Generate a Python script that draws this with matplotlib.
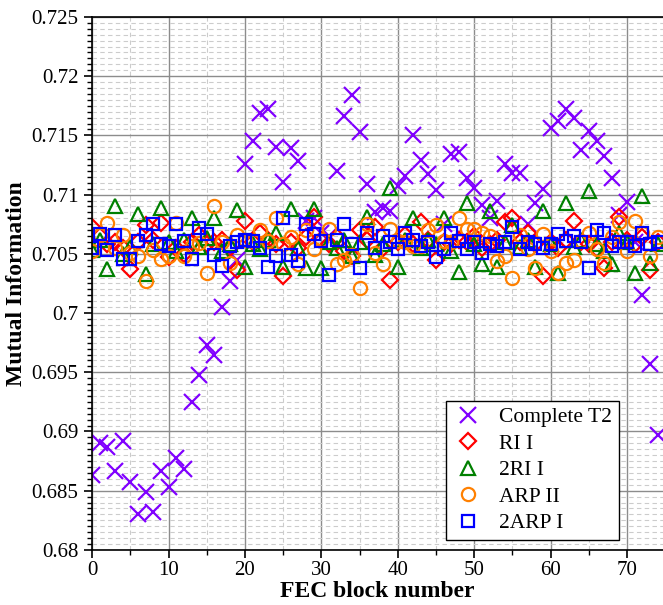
import matplotlib
matplotlib.use("Agg")
import matplotlib.pyplot as plt
import numpy as np
from matplotlib.ticker import MultipleLocator

# FEC block index 0..74
blocks = np.arange(75)

complete_t2 = [0.6863, 0.6890, 0.6887, 0.6867, 0.6892, 0.6857, 0.6830, 0.6849, 0.6832, 0.6867,
               0.6853, 0.6878, 0.6868, 0.6925, 0.6948, 0.6973, 0.6965, 0.7005, 0.7027, 0.7045,
               0.7126, 0.7145, 0.7169, 0.7172, 0.7140, 0.7111, 0.7139, 0.7128, 0.7078, 0.7080,
               0.7068, 0.7065, 0.7120, 0.7166, 0.7184, 0.7153, 0.7109, 0.7085, 0.7089, 0.7086,
               0.7107, 0.7116, 0.7150, 0.7129, 0.7117, 0.7104, 0.7075, 0.7134, 0.7136, 0.7114,
               0.7106, 0.7091, 0.7080, 0.7095, 0.7126, 0.7118, 0.7118, 0.7075, 0.7093, 0.7105,
               0.7156, 0.7162, 0.7172, 0.7165, 0.7138, 0.7154, 0.7145, 0.7133, 0.7114, 0.7083,
               0.7094, 0.7060, 0.7015, 0.6957, 0.6897]

ri_1 = [0.7073, 0.7065, 0.7058, 0.7060, 0.7055, 0.7037, 0.7060, 0.7074, 0.7062, 0.7076,
        0.7047, 0.7055, 0.7050, 0.7060, 0.7066, 0.7058, 0.7060, 0.7062, 0.7055, 0.7036,
        0.7078, 0.7060, 0.7068, 0.7062, 0.7058, 0.7031, 0.7060, 0.7055, 0.7064, 0.7081,
        0.7062, 0.7058, 0.7064, 0.7052, 0.7048, 0.7070, 0.7062, 0.7073, 0.7055, 0.7028,
        0.7060, 0.7066, 0.7058, 0.7077, 0.7062, 0.7045, 0.7060, 0.7058, 0.7062, 0.7060,
        0.7065, 0.7055, 0.7058, 0.7062, 0.7077, 0.7080, 0.7060, 0.7068, 0.7058, 0.7031,
        0.7060, 0.7055, 0.7062, 0.7078, 0.7060, 0.7058, 0.7054, 0.7038, 0.7060, 0.7081,
        0.7062, 0.7058, 0.7064, 0.7036, 0.7060]

ri2_1 = [0.7053, 0.7062, 0.7037, 0.7090, 0.7050, 0.7056, 0.7084, 0.7033, 0.7058, 0.7089,
         0.7060, 0.7052, 0.7062, 0.7080, 0.7056, 0.7063, 0.7080, 0.7052, 0.7058, 0.7087,
         0.7039, 0.7058, 0.7054, 0.7062, 0.7068, 0.7039, 0.7088, 0.7055, 0.7038, 0.7088,
         0.7038, 0.7060, 0.7055, 0.7062, 0.7048, 0.7060, 0.7081, 0.7049, 0.7058, 0.7106,
         0.7039, 0.7062, 0.7080, 0.7055, 0.7062, 0.7058, 0.7080, 0.7052, 0.7035, 0.7093,
         0.7058, 0.7041, 0.7086, 0.7039, 0.7060, 0.7074, 0.7056, 0.7062, 0.7039, 0.7086,
         0.7058, 0.7034, 0.7093, 0.7056, 0.7062, 0.7103, 0.7058, 0.7052, 0.7041, 0.7068,
         0.7060, 0.7034, 0.7099, 0.7042, 0.7058]

arp_2 = [0.7052, 0.7066, 0.7076, 0.7055, 0.7066, 0.7051, 0.7048, 0.7027, 0.7053, 0.7046,
         0.7048, 0.7076, 0.7048, 0.7057, 0.7059, 0.7034, 0.7090, 0.7060, 0.7042, 0.7066,
         0.7062, 0.7061, 0.7070, 0.7061, 0.7080, 0.7058, 0.7064, 0.7041, 0.7070, 0.7054,
         0.7062, 0.7071, 0.7041, 0.7045, 0.7049, 0.7021, 0.7075, 0.7051, 0.7041, 0.7071,
         0.7061, 0.7060, 0.7057, 0.7057, 0.7070, 0.7074, 0.7061, 0.7060, 0.7080, 0.7071,
         0.7071, 0.7068, 0.7065, 0.7044, 0.7048, 0.7030, 0.7066, 0.7054, 0.7038, 0.7067,
         0.7052, 0.7034, 0.7042, 0.7045, 0.7061, 0.7068, 0.7054, 0.7042, 0.7064, 0.7077,
         0.7052, 0.7078, 0.7068, 0.7048, 0.7064]

arp2_1 = [0.7055, 0.7067, 0.7053, 0.7066, 0.7046, 0.7046, 0.7061, 0.7066, 0.7075, 0.7058,
          0.7057, 0.7075, 0.7061, 0.7046, 0.7072, 0.7067, 0.7049, 0.7040, 0.7057, 0.7060,
          0.7062, 0.7061, 0.7055, 0.7039, 0.7048, 0.7080, 0.7049, 0.7044, 0.7075, 0.7067,
          0.7061, 0.7032, 0.7062, 0.7075, 0.7058, 0.7038, 0.7068, 0.7055, 0.7065, 0.7060,
          0.7054, 0.7068, 0.7062, 0.7057, 0.7060, 0.7047, 0.7054, 0.7068, 0.7061, 0.7054,
          0.7060, 0.7051, 0.7058, 0.7057, 0.7060, 0.7073, 0.7054, 0.7060, 0.7058, 0.7055,
          0.7058, 0.7067, 0.7061, 0.7065, 0.7060, 0.7038, 0.7070, 0.7068, 0.7057, 0.7060,
          0.7060, 0.7057, 0.7068, 0.7058, 0.7060]

plt.rcParams['font.family'] = ['Liberation Serif', 'DejaVu Serif']

fig = plt.figure(figsize=(6.63, 6.05), dpi=100)
ax = fig.add_axes([0.139, 0.091, 0.861, 0.881])

ax.plot(blocks, complete_t2, ls='none', marker='x', ms=11.5, mew=1.6, color='#8000ff', label='Complete T2')
ax.plot(blocks, ri_1, ls='none', marker='D', ms=8.5, mew=1.6, mfc='none', color='#ff0000', label='RI I')
ax.plot(blocks, ri2_1, ls='none', marker='^', ms=10.5, mew=1.6, mfc='none', color='#008000', label='2RI I')
ax.plot(blocks, arp_2, ls='none', marker='o', ms=9.5, mew=1.6, mfc='none', color='#ff8000', label='ARP II')
ax.plot(blocks, arp2_1, ls='none', marker='s', ms=8.5, mew=1.6, mfc='none', color='#0000ff', label='2ARP I')

ax.set_xlim(0, 74.7)
ax.set_ylim(0.68, 0.725)
ax.xaxis.set_major_locator(MultipleLocator(10))
ax.xaxis.set_minor_locator(MultipleLocator(5))
ax.yaxis.set_major_locator(MultipleLocator(0.005))
ax.yaxis.set_minor_locator(MultipleLocator(0.0005))
ax.yaxis.set_major_formatter(plt.FuncFormatter(lambda v, p: ('%.3f' % v).rstrip('0').rstrip('.')))

ax.grid(which='major', color='#8c8c8c', lw=1.0, ls='-')
ax.grid(which='minor', color='#cccccc', lw=0.8, ls=(0, (4, 3)))
ax.set_axisbelow(True)

ax.tick_params(which='major', direction='out', length=6, width=1.2, labelsize=15)
ax.tick_params(axis='x', which='major', pad=2)
ax.tick_params(axis='y', which='major', pad=4)
ax.tick_params(which='minor', direction='out', length=3.5, width=1.0)
ax.spines['right'].set_visible(False)
for s in ['left', 'bottom', 'top']:
    ax.spines[s].set_linewidth(1.2)

ax.set_xlabel('FEC block number', fontsize=17, fontweight='bold', labelpad=1)
ax.set_ylabel('Mutual Information', fontsize=17, fontweight='bold', labelpad=3)

leg = ax.legend(loc='lower left', bbox_to_anchor=(0.619, 0.019), borderaxespad=0,
                fontsize=15.5, fancybox=False, framealpha=1, edgecolor='black',
                handletextpad=0.7, labelspacing=0.3, borderpad=0.3, handlelength=1.5)
leg.get_frame().set_linewidth(1.0)

fig.savefig('out.png', dpi=100)
